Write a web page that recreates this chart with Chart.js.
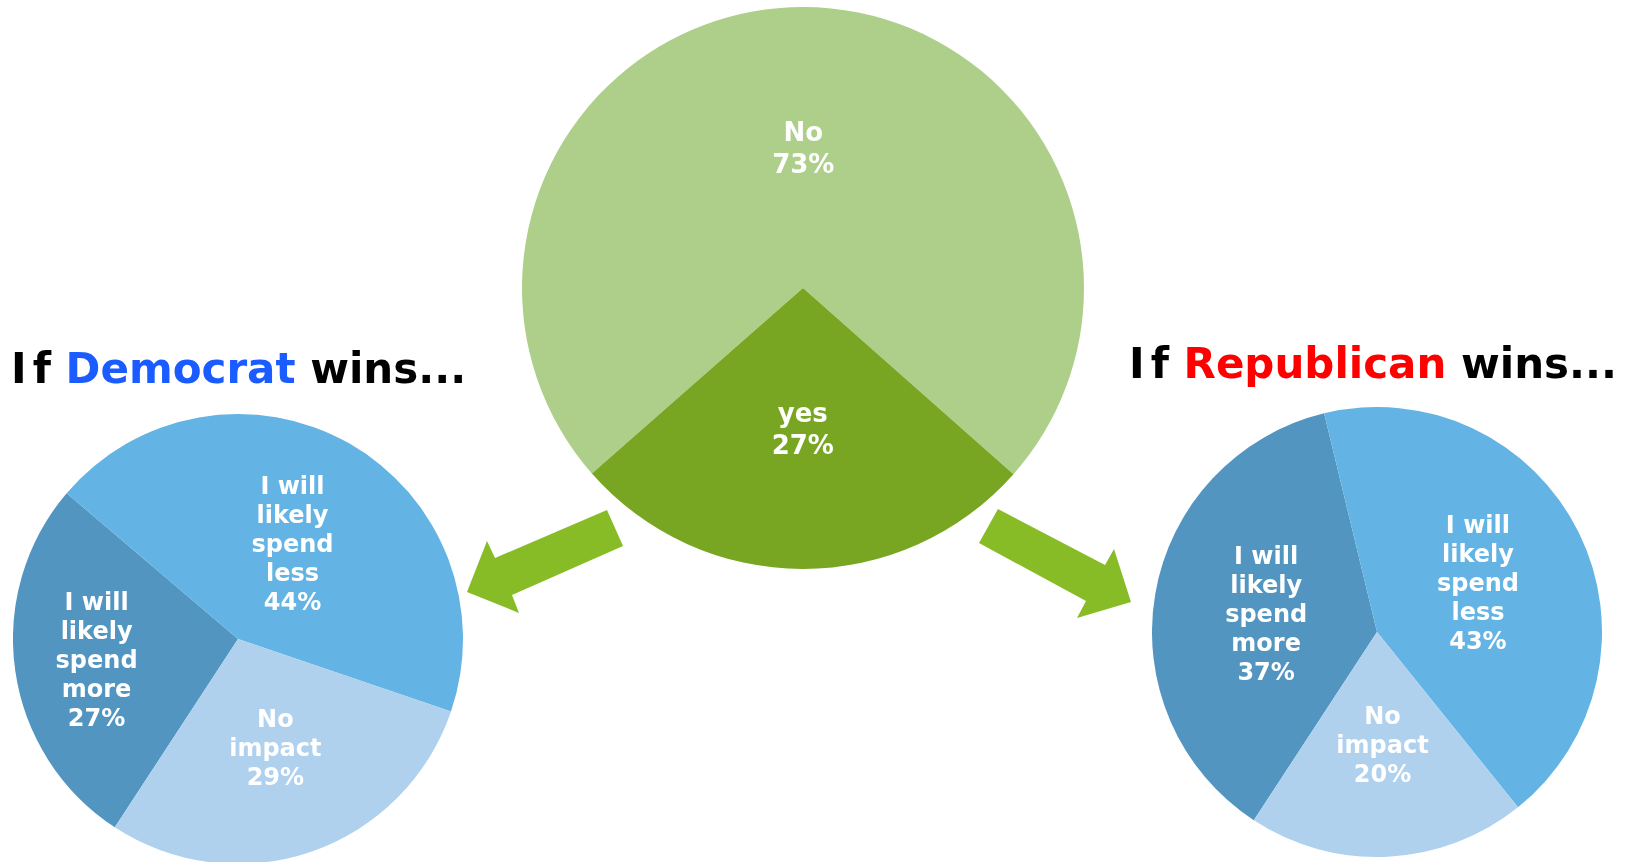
<!DOCTYPE html>
<html>
<head>
<meta charset="utf-8">
<title>Election outcome and spending</title>
<script src="https://cdn.jsdelivr.net/npm/chart.js@4.4.1/dist/chart.umd.min.js"></script>
<style>
    html, body { margin: 0; padding: 0; background: #fff; }
    body { position: relative; width: 1632px; height: 862px; overflow: hidden; }
    .pie { position: absolute; }
    #overlay { position: absolute; left: 0; top: 0; }
    #overlay text { font-family: "DejaVu Sans", Verdana, sans-serif; font-weight: bold; font-size: 42px; }
</style>
</head>
<body>
<canvas id="pieCenter" class="pie" width="562" height="562" style="left:522px;top:7px"></canvas>
<canvas id="pieDemocrat" class="pie" width="450" height="450" style="left:13px;top:414px"></canvas>
<canvas id="pieRepublican" class="pie" width="450" height="450" style="left:1152px;top:407px"></canvas>

<svg id="overlay" width="1632" height="862">
    <!-- arrows from the "yes" slice to each scenario -->
    <polygon fill="#88BC27" points="607,510 623,546 512,595 519,613 467,592 487,541 495,558"/>
    <polygon fill="#88BC27" points="998,509 979,543 1086,601 1077,618 1131,602 1114,549 1105,565"/>
    <text x="11" y="383" fill="#000">I<tspan dx="6">f </tspan><tspan fill="#1A5CFF">Democrat</tspan> wins...</text>
    <text x="1129" y="378" fill="#000">I<tspan dx="6">f </tspan><tspan fill="#FF0000">Republican</tspan> wins...</text>
</svg>

<script>
// Will the election outcome change your spending?
const answerCategories = ['No', 'yes'];
const answerValues = [73, 27];

// Spending plans of those who said yes
const spendCategories = ['I will likely spend more', 'I will likely spend less', 'No impact'];
const democratValues = [27, 44, 29];
const republicanValues = [37, 43, 20];

const greenColors = ['#AECF8A', '#78A622'];
const blueColors = ['#5195C0', '#63B4E4', '#AFD1EE'];

/**
 * Break a label into lines no wider than maxWidth
 */
function wrapWords(ctx, text, maxWidth) {
    const lines = [];
    let line = '';
    text.split(' ').forEach(word => {
        const test = line ? line + ' ' + word : word;
        if (line && ctx.measureText(test).width > maxWidth) {
            lines.push(line);
            line = word;
        } else {
            line = test;
        }
    });
    if (line) lines.push(line);
    return lines;
}

/**
 * Plugin: writes "category / value%" inside each slice, centred on the slice
 * at a fraction of the radius (one fraction per slice)
 */
function sliceLabels(style) {
    return {
        id: 'sliceLabels',
        afterDatasetsDraw(chart) {
            const ctx = chart.ctx;
            const meta = chart.getDatasetMeta(0);
            const values = chart.data.datasets[0].data;
            const cap = style.size * 0.73;

            ctx.save();
            ctx.fillStyle = '#fff';
            ctx.font = `bold ${style.size}px "DejaVu Sans", Verdana, sans-serif`;
            ctx.textAlign = 'center';
            ctx.textBaseline = 'alphabetic';

            meta.data.forEach((arc, i) => {
                const { x, y, startAngle, endAngle, outerRadius } =
                    arc.getProps(['x', 'y', 'startAngle', 'endAngle', 'outerRadius'], true);
                const mid = (startAngle + endAngle) / 2;
                const r = outerRadius * style.radius[i];
                const cx = x + Math.cos(mid) * r;
                const cy = y + Math.sin(mid) * r;

                const lines = wrapWords(ctx, chart.data.labels[i], style.wrap);
                lines.push(values[i] + '%');
                const first = cy - (lines.length - 1) * style.lineHeight / 2;
                lines.forEach((line, k) => {
                    ctx.fillText(line, cx, first + k * style.lineHeight + cap / 2);
                });
            });
            ctx.restore();
        }
    };
}

function drawPie(canvasId, labels, values, colors, rotation, labelStyle) {
    return new Chart(document.getElementById(canvasId), {
        type: 'pie',
        data: {
            labels,
            datasets: [{
                data: values,
                backgroundColor: colors,
                borderWidth: 0,
                hoverOffset: 0
            }]
        },
        options: {
            responsive: false,
            animation: false,
            rotation,
            layout: { padding: 0 },
            plugins: {
                legend: { display: false },
                tooltip: { enabled: false }
            }
        },
        plugins: [sliceLabels(labelStyle)]
    });
}

drawPie('pieCenter', answerCategories, answerValues, greenColors, 228.7,
    { size: 26, lineHeight: 31.5, wrap: 110, radius: [0.5, 0.5] });

drawPie('pieDemocrat', spendCategories, democratValues, blueColors, 213.2,
    { size: 24, lineHeight: 29, wrap: 110, radius: [0.635, 0.49, 0.51] });

drawPie('pieRepublican', spendCategories, republicanValues, blueColors, 213.2,
    { size: 24, lineHeight: 29, wrap: 110, radius: [0.5, 0.5, 0.5] });
</script>
</body>
</html>
